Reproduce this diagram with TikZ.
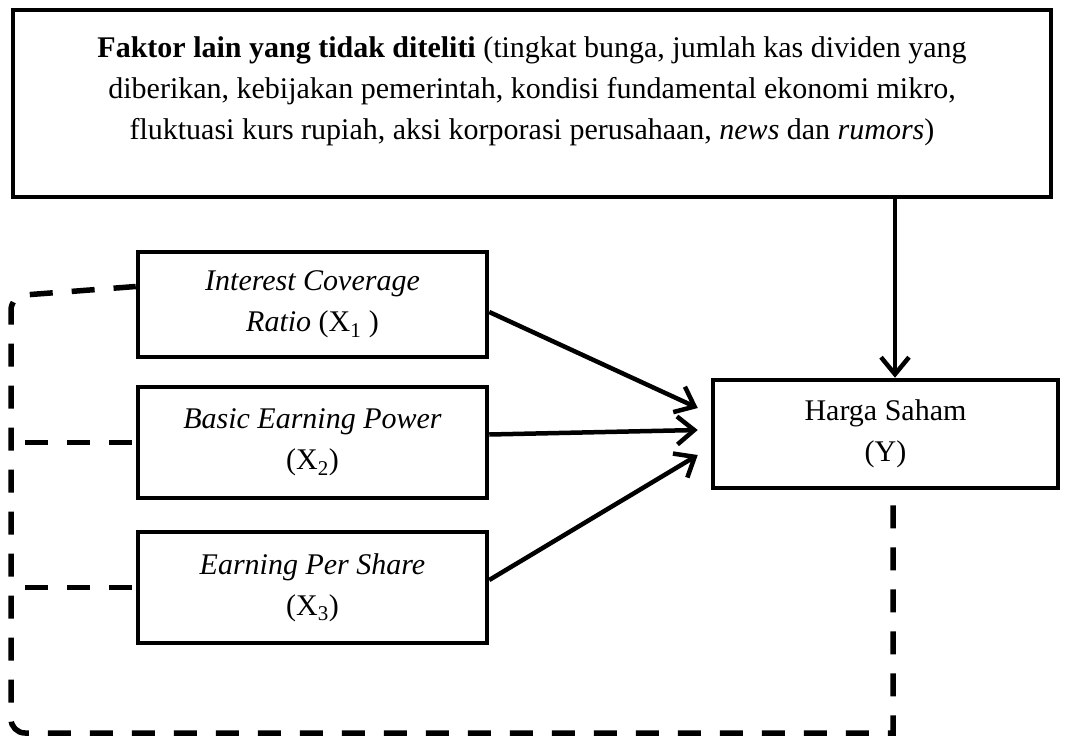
\documentclass[tikz,border=0pt]{standalone}
\usepackage{fontspec}
\setmainfont{Liberation Serif}
\usetikzlibrary{arrows.meta,calc}
\tikzset{
  box/.style={draw, line width=4.5pt, inner sep=0pt, align=center,
    font=\fontsize{30pt}{41pt}\selectfont},
  arr/.style={line width=4.5pt, -{Straight Barb[length=17pt,width=28pt,line width=4.5pt]}},
  dl/.style={line width=5.5pt, dash pattern=on 23pt off 19pt},
}
\begin{document}
\begin{tikzpicture}[x=1pt,y=-1pt]
\useasboundingbox (0,0) rectangle (1069,737);
% top box
\node[box, minimum width=1038pt, minimum height=187pt] (fk) at (532,103.5) {};
\node[align=center, inner sep=0pt, font=\fontsize{30pt}{41pt}\selectfont] (fktext) at (532,91)
 {\textbf{Faktor lain yang tidak diteliti} (tingkat bunga, jumlah kas dividen yang\\
  diberikan, kebijakan pemerintah, kondisi fundamental ekonomi mikro,\\
  fluktuasi kurs rupiah, aksi korporasi perusahaan, \textit{news} dan \textit{rumors})};
% X boxes
\node[box, minimum width=349pt, minimum height=105pt] (x1) at (312.5,304.5)
 {\textit{Interest Coverage}\\\textit{Ratio} (X\textsubscript{1} )};
\node[box, minimum width=349pt, minimum height=111pt] (x2) at (312.5,442.5)
 {\textit{Basic Earning Power}\\(X\textsubscript{2})};
\node[box, minimum width=349pt, minimum height=111pt] (x3) at (312.5,587.5)
 {\textit{Earning Per Share}\\(X\textsubscript{3})};
% Y box
\node[box, minimum width=345pt, minimum height=108pt] (yy) at (885.5,434)
 {Harga Saham\\(Y)};
% arrows
\draw[arr] ([yshift=-7.5pt]x1.east) -- ([xshift=-13pt,yshift=26pt]yy.west);
\draw[arr] ([yshift=8pt]x2.east) -- ([xshift=-13pt,yshift=4pt]yy.west);
\draw[arr] ([yshift=7.5pt]x3.east) -- ([xshift=-13pt,yshift=-21pt]yy.west);
\coordinate (ytop) at ([xshift=9.5pt]yy.north);
\coordinate (fkb) at (fk.south -| ytop);
\draw[arr] (fkb) -- (ytop);
% dashed connections
\coordinate (ybot) at ([xshift=7.5pt,yshift=-15pt]yy.south);
\coordinate (corner) at (ybot |- 0,733);
\draw[dl] (ybot) -- (corner) [rounded corners=14pt] -- (11,733) -- (11,296) -- ([yshift=18pt]x1.west);
\coordinate (l2) at (11,442.5);
\coordinate (l3) at (11,587.5);
\draw[dl, dash phase=0pt] ([xshift=-4pt]x2.west) -- ([xshift=14pt]l2);
\draw[dl, dash phase=0pt] ([xshift=-4pt]x3.west) -- ([xshift=14pt]l3);
\end{tikzpicture}
\end{document}
